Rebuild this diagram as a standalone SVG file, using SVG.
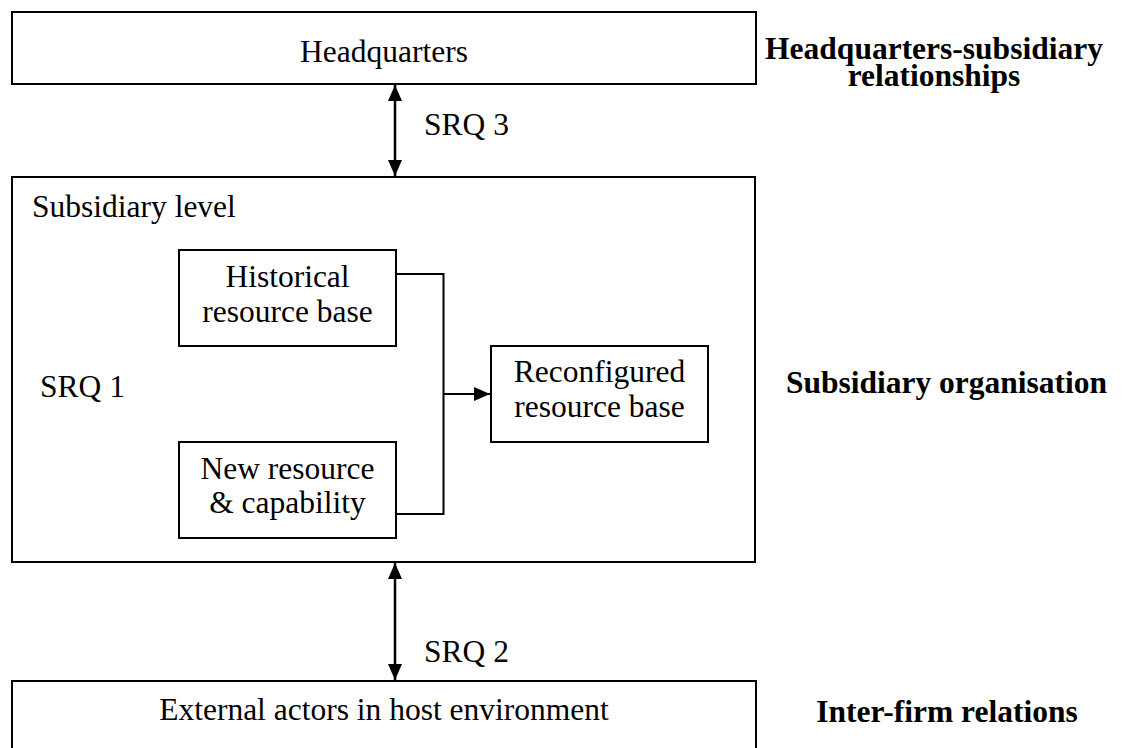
<svg xmlns="http://www.w3.org/2000/svg" width="1122" height="748" viewBox="0 0 1122 748">
  <style>
    .box { fill: #fff; stroke: #000; stroke-width: 2; }
    .txt { font-family: "Liberation Serif", "Times New Roman", Tinos, "DejaVu Serif", serif; font-size: 31.5px; fill: #000; }
    .mid { text-anchor: middle; }
    .bold { font-weight: bold; }
    .link { fill: none; stroke: #000; stroke-width: 2; }
    .dbl { fill: none; stroke: #000; stroke-width: 2.5; }
  </style>
  <defs>
    <marker id="head" viewBox="0 0 16 14" refX="16" refY="7" markerWidth="16" markerHeight="14" markerUnits="userSpaceOnUse" orient="auto-start-reverse">
      <path d="M0,0 L16,7 L0,14 Z" fill="#000"/>
    </marker>
  </defs>
  <rect width="1122" height="748" fill="#fff"/>

  <g font-family="'Liberation Serif', 'Times New Roman', 'DejaVu Serif', serif">
  <g id="headquarters">
    <rect class="box" x="12" y="12" width="744" height="72"/>
    <text class="txt mid" x="384" y="62">Headquarters</text>
  </g>

  <g id="subsidiary-level">
    <rect class="box" x="12" y="177" width="743" height="385"/>
    <text class="txt" x="32" y="217">Subsidiary level</text>
    <text class="txt" x="40" y="397">SRQ 1</text>
  </g>

  <g id="historical">
    <rect class="box" x="179" y="250" width="217" height="96"/>
    <text class="txt mid" x="287.5" y="287">Historical</text>
    <text class="txt mid" x="287.5" y="322">resource base</text>
  </g>

  <g id="new-resource">
    <rect class="box" x="179" y="442" width="217" height="96"/>
    <text class="txt mid" x="287.5" y="479">New resource</text>
    <text class="txt mid" x="287.5" y="513">&amp; capability</text>
  </g>

  <g id="reconfigured">
    <rect class="box" x="491" y="346" width="217" height="96"/>
    <text class="txt mid" x="599.5" y="382">Reconfigured</text>
    <text class="txt mid" x="599.5" y="417">resource base</text>
  </g>

  <g id="external">
    <rect class="box" x="12" y="681" width="744" height="90"/>
    <text class="txt mid" x="384" y="720">External actors in host environment</text>
  </g>

  <g id="level-labels">
    <text class="txt bold mid" x="934" y="59">Headquarters-subsidiary</text>
    <text class="txt bold mid" x="934" y="86">relationships</text>
    <text class="txt bold mid" x="946.5" y="393">Subsidiary organisation</text>
    <text class="txt bold mid" x="947" y="722">Inter-firm relations</text>
  </g>

  <g id="connectors">
    <line class="dbl" x1="395" y1="85" x2="395" y2="176" marker-start="url(#head)" marker-end="url(#head)"/>
    <text class="txt" x="424" y="135">SRQ 3</text>
    <line class="dbl" x1="395" y1="563" x2="395" y2="680" marker-start="url(#head)" marker-end="url(#head)"/>
    <text class="txt" x="424" y="662">SRQ 2</text>
    <polyline class="link" points="396,274 443.5,274 443.5,514 396,514"/>
    <line class="link" x1="443.5" y1="394" x2="490" y2="394" marker-end="url(#head)"/>
  </g>
  </g>
</svg>
